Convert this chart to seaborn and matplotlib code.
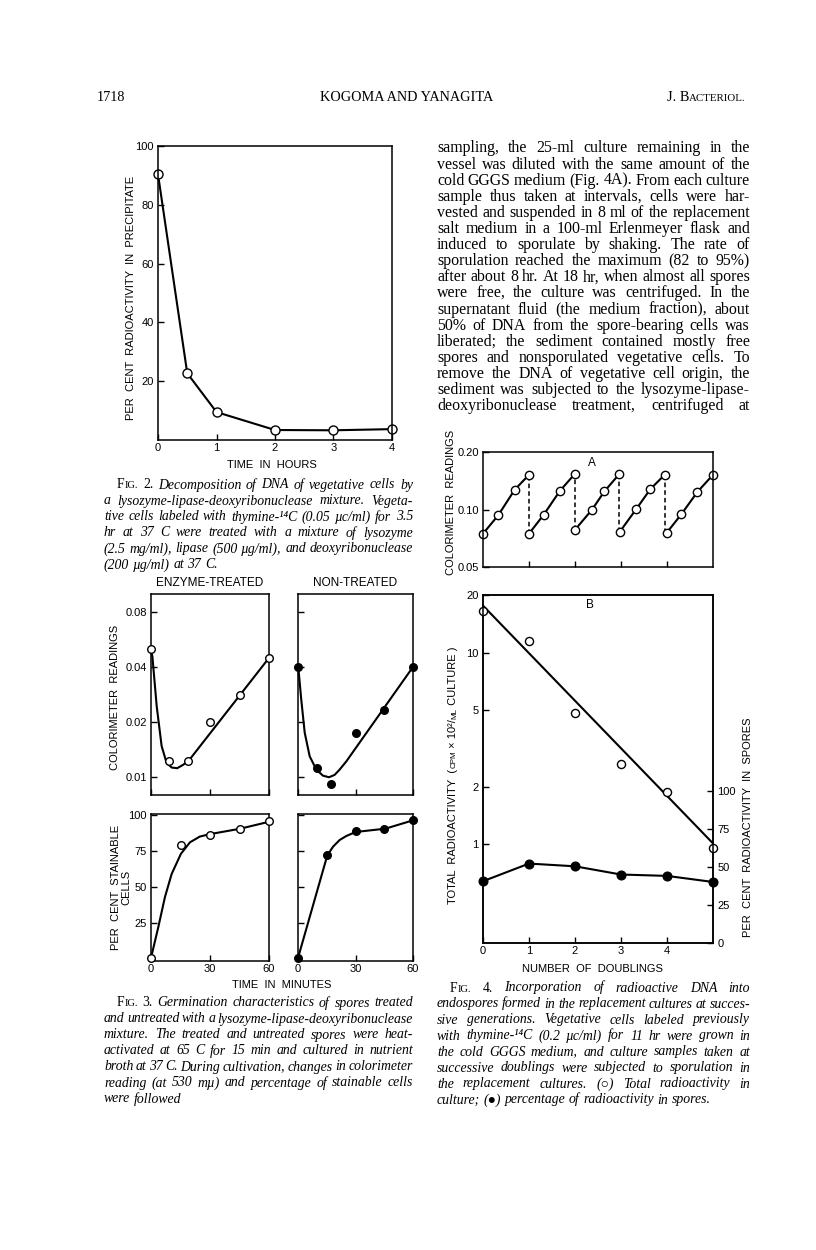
import matplotlib
matplotlib.use("Agg")
import matplotlib.pyplot as plt
from matplotlib.ticker import NullLocator
import seaborn as sns

W, H = 816, 1250

# ---------------- data ----------------
# Fig. 2
fig2_hours = [0, 0.5, 1, 2, 3, 4]
fig2_precip = [90.4, 22.7, 9.5, 3.4, 3.3, 3.7]

# Fig. 3 colorimeter readings
f3_enz_col_t = [0, 9, 19, 30, 45, 60]
f3_enz_col_v = [0.0499, 0.0122, 0.0122, 0.0201, 0.0282, 0.045]
f3_enz_col_curve_t = [0, 0.7, 2.9, 5.4, 7.9, 10.5, 13.3, 16.4, 19.4, 60]
f3_enz_col_curve_v = [0.049, 0.0457, 0.0244, 0.0148, 0.0120, 0.0113, 0.0112, 0.0117, 0.0124, 0.0448]
f3_non_col_t = [0, 10, 17, 30, 45, 60]
f3_non_col_v = [0.040, 0.0112, 0.0092, 0.0175, 0.0232, 0.040]
f3_non_col_curve_t = [0, 0.35, 1.7, 3.5, 6.1, 9.6, 13.0, 16.2, 19.1, 21.7, 25.2, 60]
f3_non_col_curve_v = [0.040, 0.0379, 0.0265, 0.0175, 0.0130, 0.0110, 0.0102, 0.0100,
                      0.0103, 0.0110, 0.0122, 0.0400]
# Fig. 3 per cent stainable cells
f3_enz_st_t = [0, 15, 30, 45, 60]
f3_enz_st_v = [0.6, 79, 86, 90, 96]
f3_enz_st_curve_t = [0, 3.7, 7.1, 10.5, 15.2, 19.8, 24.8, 29.9, 45.1, 60]
f3_enz_st_curve_v = [0.6, 22, 43, 59, 73, 81, 85, 86.7, 90.4, 95.3]
f3_non_st_t = [0, 15, 30, 45, 60]
f3_non_st_v = [0.6, 72, 89, 90.5, 96.5]
f3_non_st_curve_t = [0, 15.3, 18.3, 21.7, 25.2, 30.1, 45.6, 60]
f3_non_st_curve_v = [0.6, 72, 78, 82.6, 85.4, 88.2, 90.5, 96.3]

# Fig. 4A colorimeter readings, one list per growth cycle
f4a_cycle_x = [[0.0, 0.33, 0.69, 1.0],
               [1.0, 1.32, 1.67, 1.99],
               [1.99, 2.37, 2.64, 2.96],
               [2.97, 3.33, 3.64, 3.95],
               [3.99, 4.31, 4.66, 5.0]]
f4a_cycle_y = [[0.0747, 0.0932, 0.127, 0.152],
               [0.0747, 0.0939, 0.125, 0.153],
               [0.0778, 0.0998, 0.1245, 0.153],
               [0.0762, 0.1004, 0.128, 0.152],
               [0.0753, 0.0943, 0.1235, 0.152]]

# Fig. 4B
f4b_doublings = [0, 1, 2, 3, 4, 5]
f4b_total = [16.6, 11.5, 4.84, 2.63, 1.88, 0.953]
f4b_fit_x = [0, 5]
f4b_fit_y = [17.6, 1.01]
f4b_spores_pct = [40.6, 52.2, 50.4, 45.0, 44.1, 40.1]

# ---------------- text ----------------
body_lines = [
    "sampling, the 25-ml culture remaining in the",
    "vessel was diluted with the same amount of the",
    "cold GGGS medium (Fig. 4A). From each culture",
    "sample thus taken at intervals, cells were har-",
    "vested and suspended in 8 ml of the replacement",
    "salt medium in a 100-ml Erlenmeyer flask and",
    "induced to sporulate by shaking. The rate of",
    "sporulation reached the maximum (82 to 95%)",
    "after about 8 hr. At 18 hr, when almost all spores",
    "were free, the culture was centrifuged. In the",
    "supernatant fluid (the medium fraction), about",
    "50% of DNA from the spore-bearing cells was",
    "liberated; the sediment contained mostly free",
    "spores and nonsporulated vegetative cells. To",
    "remove the DNA of vegetative cell origin, the",
    "sediment was subjected to the lysozyme-lipase-",
    "deoxyribonuclease treatment, centrifuged at",
]
cap2_lines = [
    "Decomposition of DNA of vegetative cells by",
    "a lysozyme-lipase-deoxyribonuclease mixture. Vegeta-",
    "tive cells labeled with thymine-\u00b9\u2074C (0.05 \u00b5c/ml) for 3.5",
    "hr at 37 C were treated with a mixture of lysozyme",
    "(2.5 mg/ml), lipase (500 \u00b5g/ml), and deoxyribonuclease",
    "(200 \u00b5g/ml) at 37 C.",
]
cap3_lines = [
    "Germination characteristics of spores treated",
    "and untreated with a lysozyme-lipase-deoxyribonuclease",
    "mixture. The treated and untreated spores were heat-",
    "activated at 65 C for 15 min and cultured in nutrient",
    "broth at 37 C. During cultivation, changes in colorimeter",
    "reading (at 530 m\u00b5) and percentage of stainable cells",
    "were followed",
]
cap4_lines = [
    "Incorporation of radioactive DNA into",
    "endospores formed in the replacement cultures at succes-",
    "sive generations. Vegetative cells labeled previously",
    "with thymine-\u00b9\u2074C (0.2 \u00b5c/ml) for 11 hr were grown in",
    "the cold GGGS medium, and culture samples taken at",
    "successive doublings were subjected to sporulation in",
    "the replacement cultures. (\u25cb) Total radioactivity in",
    "culture; (\u25cf) percentage of radioactivity in spores.",
]

# ---------------- style ----------------
sns.set_theme(style="white")
SANS = ['Liberation Sans', 'DejaVu Sans']
SERIF = ['Liberation Serif', 'DejaVu Serif']
plt.rcParams['font.family'] = SANS
plt.rcParams.update({
    'axes.linewidth': 1.1, 'axes.edgecolor': 'black',
    'xtick.direction': 'in', 'ytick.direction': 'in',
    'xtick.bottom': True, 'ytick.left': True,
    'xtick.major.size': 4, 'ytick.major.size': 4,
    'xtick.major.width': 1.0, 'ytick.major.width': 1.0,
    'xtick.color': 'black', 'ytick.color': 'black',
    'xtick.labelsize': 8, 'ytick.labelsize': 8,
    'xtick.major.pad': 2.5, 'ytick.major.pad': 3,
    'text.color': 'black', 'axes.facecolor': 'white', 'figure.facecolor': 'white',
})

fig = plt.figure(figsize=(W / 100, H / 100), dpi=100)
renderer = fig.canvas.get_renderer()


def add_ax(l, t, r, b):
    ax = fig.add_axes([l / W, 1 - b / H, (r - l) / W, (b - t) / H])
    for sp in ax.spines.values():
        sp.set_visible(True)
        sp.set_color('black')
        sp.set_linewidth(1.1)
    ax.tick_params(which='both', direction='in', colors='black')
    return ax


def no_minor(ax):
    ax.xaxis.set_minor_locator(NullLocator())
    ax.yaxis.set_minor_locator(NullLocator())


LINE = dict(color='black', lw=1.5, estimator=None, legend=False)


def curve(ax, x, y):
    sns.lineplot(x=x, y=y, ax=ax, clip_on=False, **LINE)


def pts(ax, x, y, filled, s=30):
    sns.scatterplot(x=x, y=y, ax=ax, s=s, color='black' if filled else 'white',
                    edgecolor='black', linewidth=1.0, zorder=5, clip_on=False, legend=False)


def ftext(x, y, s, **kw):
    kw.setdefault('ha', 'center')
    kw.setdefault('va', 'center')
    kw.setdefault('fontsize', 8)
    return fig.text(x / W, 1 - y / H, s, **kw)


# ---------------- Fig. 2 ----------------
ax2 = add_ax(158, 146, 392, 440)
sns.lineplot(x=fig2_hours, y=fig2_precip, ax=ax2, marker='o', markersize=6.5,
             markerfacecolor='white', markeredgecolor='black', markeredgewidth=1.0,
             clip_on=False, **LINE)
ax2.set_xlim(0, 4)
ax2.set_ylim(0, 100)
ax2.set_xticks([0, 1, 2, 3, 4])
ax2.set_yticks([20, 40, 60, 80, 100])
ax2.set_xlabel('')
ax2.set_ylabel('')
ftext(131, 298, 'PER  CENT  RADIOACTIVITY  IN  PRECIPITATE', rotation=90)
ftext(272, 465, 'TIME  IN  HOURS')

# ---------------- Fig. 3 ----------------
tl = add_ax(151, 594, 269, 795)
tr = add_ax(298, 594, 413, 795)
bl = add_ax(151, 814, 269, 961)
br = add_ax(298, 814, 413, 961)

curve(tl, f3_enz_col_curve_t, f3_enz_col_curve_v)
pts(tl, f3_enz_col_t, f3_enz_col_v, False)
curve(tr, f3_non_col_curve_t, f3_non_col_curve_v)
pts(tr, f3_non_col_t, f3_non_col_v, True)
curve(bl, f3_enz_st_curve_t, f3_enz_st_curve_v)
pts(bl, f3_enz_st_t, f3_enz_st_v, False)
curve(br, f3_non_st_curve_t, f3_non_st_curve_v)
pts(br, f3_non_st_t, f3_non_st_v, True)

for ax in (tl, tr):
    ax.set_yscale('log')
    ax.set_ylim(0.008, 0.1)
    ax.set_yticks([0.01, 0.02, 0.04, 0.08])
    ax.set_yticklabels(['0.01', '0.02', '0.04', '0.08'] if ax is tl else [])
    ax.set_xticks([0, 30, 60])
    ax.set_xticklabels([])
for ax in (bl, br):
    ax.set_ylim(-1.5, 100.7)
    ax.set_yticks([25, 50, 75, 100])
    if ax is br:
        ax.set_yticklabels([])
    ax.set_xticks([0, 30, 60])
    ax.set_xticklabels(['0', '30', '60'])
for ax in (tl, tr, bl, br):
    ax.set_xlim(0, 60)
    ax.set_xlabel('')
    ax.set_ylabel('')
    no_minor(ax)

ftext(210, 583, 'ENZYME-TREATED', fontsize=8.5)
ftext(355, 583, 'NON-TREATED', fontsize=8.5)
ftext(115, 697, 'COLORIMETER  READINGS', rotation=90)
ftext(121, 887, 'PER  CENT  STAINABLE\nCELLS', rotation=90, multialignment='center',
      linespacing=1.1)
ftext(282, 985, 'TIME  IN  MINUTES')

# ---------------- Fig. 4A ----------------
axa = add_ax(483, 452, 713, 567)
for i, (cx, cy) in enumerate(zip(f4a_cycle_x, f4a_cycle_y)):
    sns.lineplot(x=cx, y=cy, ax=axa, marker='o', markersize=6,
                 markerfacecolor='white', markeredgecolor='black', markeredgewidth=1.0,
                 clip_on=False, **LINE)
    if i + 1 < len(f4a_cycle_x):
        axa.vlines(cx[-1], f4a_cycle_y[i + 1][0], cy[-1], colors='black',
                   linestyles=(0, (3, 2)), lw=1.1, zorder=1)
axa.set_yscale('log')
axa.set_ylim(0.05, 0.2)
axa.set_xlim(0, 5)
axa.set_yticks([0.05, 0.1, 0.2])
axa.set_yticklabels(['0.05', '0.10', '0.20'])
axa.set_xticks([1, 2, 3, 4])
axa.set_xticklabels([])
axa.set_xlabel('')
axa.set_ylabel('')
no_minor(axa)
ftext(592, 463, 'A', fontsize=8.5)
ftext(451, 502, 'COLORIMETER  READINGS', rotation=90)

# ---------------- Fig. 4B ----------------
axb = add_ax(483, 595, 713, 943)
curve(axb, f4b_fit_x, f4b_fit_y)
pts(axb, f4b_doublings, f4b_total, False, s=34)
axb.set_yscale('log')
axb.set_ylim(0.305, 20)
axb.set_xlim(0, 5)
axb.set_yticks([1, 2, 5, 10, 20])
axb.set_yticklabels(['1', '2', '5', '10', '20'])
axb.set_xticks([0, 1, 2, 3, 4])
axb.set_xticklabels(['0', '1', '2', '3', '4'])
axb.set_xlabel('')
axb.set_ylabel('')
no_minor(axb)

axr = axb.twinx()
sns.lineplot(x=f4b_doublings, y=f4b_spores_pct, ax=axr, marker='o', markersize=6.5,
             markerfacecolor='black', markeredgecolor='black', clip_on=False, **LINE)
axr.set_ylim(0, 228.7)
axr.set_yticks([0, 25, 50, 75, 100])
axr.tick_params(direction='in', colors='black', right=True, left=False, labelright=True)
axr.yaxis.set_minor_locator(NullLocator())
axr.set_ylabel('')
for sp in axr.spines.values():
    sp.set_visible(True)
    sp.set_color('black')
    sp.set_linewidth(1.1)

ftext(590, 605, 'B', fontsize=8.5)
ftext(592, 969, 'NUMBER  OF  DOUBLINGS')
ftext(748, 827, 'PER  CENT  RADIOACTIVITY  IN  SPORES', rotation=90)

# ---------------- text helpers ----------------
_cache = {}


def measure(s, kw):
    key = (s, repr(sorted(kw.items())))
    if key not in _cache:
        t = fig.text(0, 0, s, **kw)
        _cache[key] = t.get_window_extent(renderer).width
        t.remove()
    return _cache[key]


def run(segs, x, y, rotation=0, align='left'):
    widths = [measure(s, kw) for s, kw in segs]
    total = sum(widths)
    pos = {'left': 0, 'center': -total / 2, 'right': -total}[align]
    for (s, kw), w in zip(segs, widths):
        if rotation == 0:
            fig.text((x + pos) / W, 1 - y / H, s, ha='left', va='baseline', **kw)
        else:
            fig.text(x / W, 1 - (y - pos) / H, s, ha='left', va='baseline',
                     rotation=90, rotation_mode='anchor', **kw)
        pos += w


def justify(words, x0, x1, y, full=True):
    widths = [sum(measure(s, kw) for s, kw in w) for w in words]
    kw0 = words[-1][0][1]
    space = measure('a a', kw0) - measure('aa', kw0)
    if full and len(words) > 1:
        gap = max((x1 - x0 - sum(widths)) / (len(words) - 1), space * 0.5)
    else:
        gap = space
    x = x0
    for w, wd in zip(words, widths):
        run(w, x, y)
        x += wd + gap


body_kw = dict(family=SERIF, size=11.4)
cap_kw = dict(family=SERIF, size=9.9, style='italic')
sc_big = dict(family=SERIF, size=9.9)
sc_small = dict(family=SERIF, size=7.6)


def caption(num, lines, x0, x1, y0, indent=13):
    for i, line in enumerate(lines):
        words = [[(w, cap_kw)] for w in line.split()]
        xs = x0
        if i == 0:
            words = [[('F', sc_big), ('IG.', sc_small)], [(f'{num}.', sc_big)]] + words
            xs = x0 + indent
        justify(words, xs, x1, y0 + 16 * i + 4.5, full=(i < len(lines) - 1))


# body text (right column)
for i, line in enumerate(body_lines):
    justify([[(w, body_kw)] for w in line.split()], 437, 750, 148 + 16.1 * i + 4.5)

caption(2, cap2_lines, 104, 413, 484)
caption(3, cap3_lines, 104, 413, 1002)
caption(4, cap4_lines, 437, 750, 987)

# header
hdr = dict(family=SERIF, size=10.3)
hdr_small = dict(family=SERIF, size=7.8)
run([('1718', hdr)], 97, 101)
run([('KOGOMA AND YANAGITA', hdr)], 407, 101, align='center')
run([('J. B', hdr), ('ACTERIOL.', hdr_small)], 746, 101, align='right')

# y label of Fig. 4B with small-cap units
lab = dict(family=SANS, size=8)
lab_small = dict(family=SANS, size=5.8)
run([('TOTAL  RADIOACTIVITY  (', lab), ('CPM', lab_small), (' \u00d7 10\u00b2/', lab),
     ('ML', lab_small), (' CULTURE )', lab)], 456, 775, rotation=90, align='center')

fig.savefig('out.png', dpi=100)
